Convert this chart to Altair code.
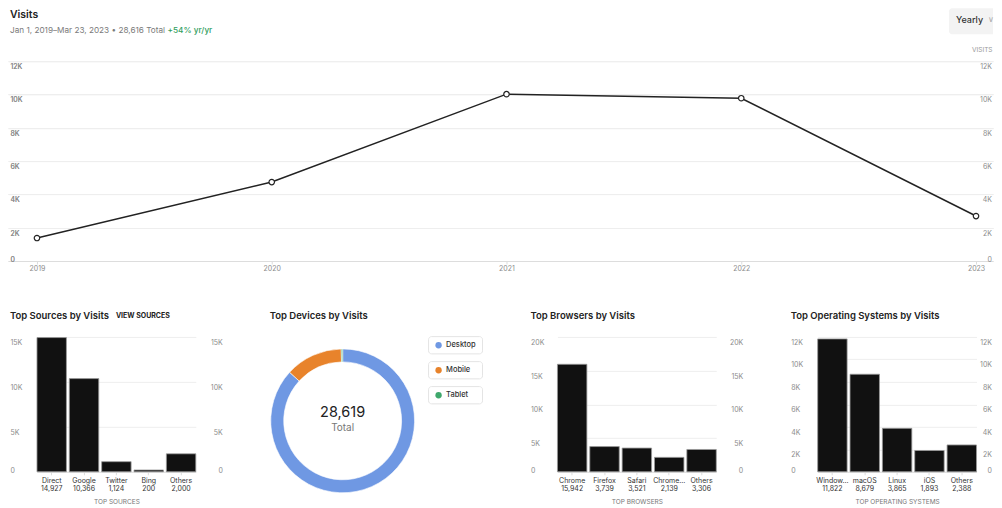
import altair as alt
import pandas as pd

FONT = "Inter"

# ---------------- data ----------------
years = [2019, 2020, 2021, 2022, 2023]
visits = [1380, 4740, 10020, 9776, 2700]

source_names = ["Direct", "Google", "Twitter", "Bing", "Others"]
source_visits = [14927, 10366, 1124, 200, 2000]

device_names = ["Desktop", "Mobile", "Tablet"]
device_visits = [24840, 3690, 89]
device_colors = ["#6f98e3", "#e8832b", "#3fa86c"]

browser_names = ["Chrome", "Firefox", "Safari", "Chrome\u2026", "Others"]
browser_visits = [15942, 3739, 3521, 2139, 3306]

os_names = ["Window\u2026", "macOS", "Linux", "iOS", "Others"]
os_visits = [11822, 8679, 3865, 1893, 2388]

top_ticks = [0, 2000, 4000, 6000, 8000, 10000, 12000]

# ---------------- helpers ----------------
LABEL_BASELINE = {"condition": {"test": "datum.value === 0", "value": "bottom"}, "value": "top"}
K_EXPR = "datum.value === 0 ? '0' : format(datum.value / 1000, 'd') + 'K'"


def yaxis(orient, values, **kw):
    d = dict(
        orient=orient, values=values, labelExpr=K_EXPR, domain=False, ticks=False,
        labelFontSize=7, labelColor="#8c8c8c", labelFont=FONT,
        labelBaseline=LABEL_BASELINE, labelOffset=1.5, title=None,
        grid=(orient == "left"), gridColor="#eeeeee", gridWidth=1,
    )
    if orient == "left":
        d.update(labelAlign="left", labelPadding=-2)
    else:
        d.update(labelAlign="right", labelPadding=-1.5)
    d.update(kw)
    return alt.Axis(**d)


def txt(text, x, y, size, color="#333333", weight="normal", align="left", baseline="middle"):
    return alt.Chart(pd.DataFrame({"t": [text]})).mark_text(
        align=align, baseline=baseline, fontSize=size, fontWeight=weight,
        color=color, font=FONT
    ).encode(text="t:N", x=alt.value(x), y=alt.value(y))


# ---------------- top line chart ----------------
TOP_W, TOP_H = 986, 200
line_df = pd.DataFrame({"year": years, "visits": visits})
x0_px, step_px = 29, 235
x_dom = [2019 - x0_px / step_px, 2019 + (TOP_W - x0_px) / step_px]

x_top = alt.X(
    "year:Q",
    scale=alt.Scale(domain=x_dom, nice=False, zero=False),
    axis=alt.Axis(values=years, format="d", grid=False, domainColor="#dddddd",
                  tickColor="#dddddd", tickSize=3, labelFontSize=7, labelColor="#8c8c8c",
                  labelFont=FONT, labelPadding=1, title=None),
)
y_scale_top = alt.Scale(domain=[0, 12000], nice=False)

line = alt.Chart(line_df).mark_line(color="#222222", strokeWidth=1.5).encode(
    x=x_top, y=alt.Y("visits:Q", scale=y_scale_top, axis=yaxis("left", top_ticks))
)
pts = alt.Chart(line_df).mark_point(
    shape="circle", size=30, filled=True, fill="white", stroke="#222222", strokeWidth=1.2, opacity=1
).encode(x=x_top, y=alt.Y("visits:Q", scale=y_scale_top, axis=yaxis("left", top_ticks)))
line_right = alt.Chart(line_df).mark_line(opacity=0).encode(
    x=x_top,
    y=alt.Y("visits:Q", scale=y_scale_top,
            axis=yaxis("right", top_ticks, title="VISITS", titleAngle=0, titleAlign="right",
                       titleBaseline="middle", titleX=-1, titleY=-12, titleFontSize=6.5,
                       titleColor="#999999", titleFontWeight="normal", titleFont=FONT)),
)

btn = alt.Chart(pd.DataFrame({"t": ["Yearly"]})).mark_rect(
    fill="#f3f3f3", cornerRadiusTopLeft=3, cornerRadiusBottomLeft=3
).encode(x=alt.value(942), x2=alt.value(TOP_W), y=alt.value(-53), y2=alt.value(-27))

total_visits = sum(visits)
subtitle = f"Jan 1, 2019\u2013Mar 23, 2023 \u2022 {total_visits:,} Total"

top = alt.layer(
    line, pts, line_right, btn,
    txt("Visits", 2, -46.5, 10.5, "#222222", 600),
    txt(subtitle, 2, -30, 8.2, "#7a7a7a"),
    txt("+54% yr/yr", 159.7, -30, 8.2, "#2f9e5e", 500),
    txt("Yearly", 949, -41, 9, "#333333", 500),
    txt("\u2228", 980.5, -41, 8, "#aaaaaa"),
).resolve_scale(y="independent").properties(width=TOP_W, height=TOP_H)

# ---------------- bar panels ----------------
PANEL_H = 135
BAND_RANGE = [29, 188]
GAP = 44.5
PANEL_W = 216


def bar_panel(names, vals, ymax, ystep, title, xtitle, width, extra=()):
    df = pd.DataFrame({
        "name": names, "visits": vals,
        "label": [f"{n}|{v:,}" for n, v in zip(names, vals)],
    })
    ticks = list(range(0, ymax + 1, ystep))
    xs = alt.Scale(range=BAND_RANGE, paddingInner=0.09, paddingOuter=0)
    x_enc = alt.X(
        "label:N", sort=None, scale=xs,
        axis=alt.Axis(title=xtitle, labelExpr="split(datum.label, '|')", labelAngle=0,
                      labelFontSize=7, labelColor="#333333", labelFont=FONT, labelLineHeight=8,
                      labelLimit=60, labelPadding=1.5, tickSize=3, tickColor="#dddddd",
                      domainColor="#dddddd", titleFontSize=6.5, titleColor="#777777",
                      titleFontWeight="normal", titleFont=FONT, titlePadding=7.5),
    )
    ysc = alt.Scale(domain=[0, ymax], nice=False)
    bars = alt.Chart(df).mark_bar(color="#111111", stroke="#9a9a9a", strokeWidth=0.8).encode(
        x=x_enc, y=alt.Y("visits:Q", scale=ysc, axis=yaxis("left", ticks))
    )
    ghost = alt.Chart(df).mark_bar(opacity=0).encode(
        x=x_enc,
        y=alt.Y("visits:Q", scale=ysc, axis=yaxis("right", ticks)),
    )
    return alt.layer(
        bars, ghost, txt(title, 2, -21, 9.5, "#222222", 600), *extra
    ).resolve_scale(y="independent").properties(width=width, height=PANEL_H)


p1 = bar_panel(source_names, source_visits, 15000, 5000, "Top Sources by Visits", "TOP SOURCES", PANEL_W,
               extra=(txt("VIEW SOURCES", 108, -21, 7, "#222222", 700),))
p3 = bar_panel(browser_names, browser_visits, 20000, 5000, "Top Browsers by Visits", "TOP BROWSERS", PANEL_W)
p4 = bar_panel(os_names, os_visits, 12000, 2000, "Top Operating Systems by Visits",
               "TOP OPERATING SYSTEMS", TOP_W - 3 * (PANEL_W + GAP))

# ---------------- donut panel ----------------
dev_df = pd.DataFrame({"device": device_names, "visits": device_visits,
                       "order": list(range(len(device_names)))})
color_scale = alt.Scale(domain=device_names, range=device_colors)
CX, CY = 74.5, 84

arc = alt.Chart(dev_df).mark_arc(innerRadius=59, outerRadius=72, stroke="white", strokeWidth=0.6).encode(
    theta=alt.Theta("visits:Q", stack=True),
    order=alt.Order("order:Q"),
    color=alt.Color("device:N", scale=color_scale, legend=None),
    x=alt.value(CX), y=alt.value(CY),
)
leg_y = alt.Y("device:N", sort=None,
              scale=alt.Scale(domain=device_names, range=[-0.3, 67], paddingInner=0.31, paddingOuter=0),
              axis=None)
boxes = alt.Chart(dev_df).mark_rect(fill="white", stroke="#e4e4e4", strokeWidth=1, cornerRadius=3).encode(
    y=leg_y, x=alt.value(160.5), x2=alt.value(214.5)
)
dots = alt.Chart(dev_df).mark_circle(size=40, opacity=1).encode(
    y=leg_y, x=alt.value(170.5), color=alt.Color("device:N", scale=color_scale, legend=None)
)
leg_txt = alt.Chart(dev_df).mark_text(align="left", baseline="middle", fontSize=7.5, fontWeight=500,
                                      color="#333333", font=FONT).encode(
    y=leg_y, x=alt.value(178), text="device:N"
)
total_dev = sum(device_visits)
p2 = alt.layer(
    arc, boxes, dots, leg_txt,
    txt(f"{total_dev:,}", CX, CY - 7.4, 14.5, "#222222", "normal", "center"),
    txt("Total", CX, CY + 7.6, 10, "#777777", "normal", "center"),
    txt("Top Devices by Visits", 1.5, -21, 9.5, "#222222", 600),
).properties(width=PANEL_W, height=PANEL_H)

bottom = alt.hconcat(p1, p2, p3, p4, spacing=GAP, bounds="flush")

chart = alt.vconcat(top, bottom, spacing=76, bounds="flush").properties(
    padding=0, background="white"
).configure(font=FONT).configure_view(strokeWidth=0, stroke="transparent")

chart.save("out.html", embed_options={"renderer": "svg", "actions": False})
